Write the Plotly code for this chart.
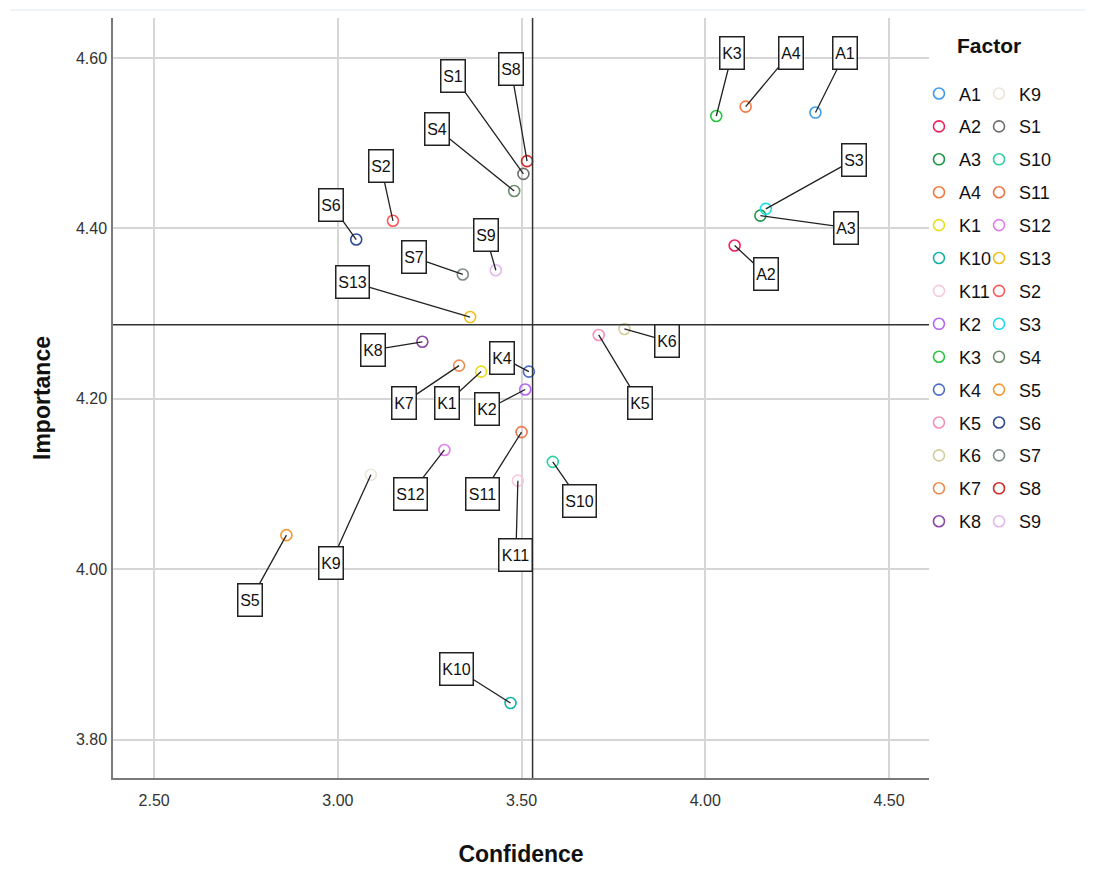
import plotly.graph_objects as go

# factor scores
factors = ["A1", "A2", "A3", "A4", "K1", "K10", "K11", "K2", "K3", "K4", "K5", "K6", "K7", "K8",
           "K9", "S1", "S10", "S11", "S12", "S13", "S2", "S3", "S4", "S5", "S6", "S7", "S8", "S9"]
confidence = [4.30, 4.08, 4.15, 4.11, 3.39, 3.47, 3.49, 3.51, 4.03, 3.52, 3.71, 3.78, 3.33, 3.23,
              3.09, 3.505, 3.585, 3.50, 3.29, 3.36, 3.15, 4.165, 3.48, 2.86, 3.05, 3.34, 3.515, 3.43]
importance = [4.536, 4.380, 4.415, 4.543, 4.232, 3.843, 4.104, 4.211, 4.532, 4.232, 4.275, 4.282, 4.239, 4.267,
              4.111, 4.464, 4.126, 4.161, 4.140, 4.296, 4.409, 4.423, 4.444, 4.040, 4.387, 4.346, 4.479, 4.351]

# reference lines (overall means)
ref_confidence = 3.53
ref_importance = 4.287

x_ticks = [2.5, 3.0, 3.5, 4.0, 4.5]
y_ticks = [3.8, 4.0, 4.2, 4.4, 4.6]

colors = {
    "A1": "#3d9be9", "A2": "#f0205a", "A3": "#1e9646", "A4": "#f57a46",
    "K1": "#e8de1e", "K10": "#14b4aa", "K11": "#fac8dc", "K2": "#b464f0",
    "K3": "#2dc346", "K4": "#4b6ec8", "K5": "#f591b9", "K6": "#d2cd9b",
    "K7": "#ec8c50", "K8": "#8c46a5", "K9": "#ebe6d7", "S1": "#6e6e6e",
    "S10": "#2dd2a0", "S11": "#f0734b", "S12": "#e17deb", "S13": "#f0be1e",
    "S2": "#f55a5a", "S3": "#1edceb", "S4": "#6e8c6e", "S5": "#f7962d",
    "S6": "#2d4b96", "S7": "#7d8c87", "S8": "#d22828", "S9": "#e1b9f0",
}

# label box offsets from each point, in pixels
# (A2 avoids the exact box-corner diagonal, where plotly drops the leader line)
label_offsets = {
    "A1": (30, -60), "A2": (31, 29), "A3": (86, 12), "A4": (45, -54),
    "K1": (-34, 31), "K10": (-54, -34), "K11": (-2, 74), "K2": (-38, 20),
    "K3": (16, -63), "K4": (-27, -14), "K5": (41, 68), "K6": (43, 12),
    "K7": (-55, 37), "K8": (-49, 8), "K9": (-40, 88), "S1": (-70, -98),
    "S10": (27, 39), "S11": (-39, 62), "S12": (-34, 44), "S13": (-118, -35),
    "S2": (-12, -55), "S3": (88, -49), "S4": (-77, -62), "S5": (-36, 65),
    "S6": (-25, -35), "S7": (-49, -17), "S8": (-16, -92), "S9": (-10, -35),
}

FONT = "Liberation Sans, Arial, sans-serif"

fig = go.Figure()

for i, (name, cx, iy) in enumerate(zip(factors, confidence, importance)):
    fig.add_trace(go.Scatter(
        x=[cx], y=[iy], mode="markers", name=name,
        legendgroup=name,
        legend="legend" if i < 14 else "legend2",
        marker=dict(symbol="circle-open", size=11, color=colors[name], line=dict(width=1.6)),
    ))
    dx, dy = label_offsets[name]
    fig.add_annotation(
        x=cx, y=iy, ax=dx, ay=dy, axref="pixel", ayref="pixel", text=name,
        showarrow=True, arrowhead=0, arrowwidth=1.3, arrowcolor="#222222", standoff=0,
        font=dict(family=FONT, size=16, color="#111111"),
        bgcolor="white", bordercolor="#222222", borderwidth=1.5, borderpad=1,
        width=21 if len(name) == 2 else 30, height=29,
    )

# mean reference lines
fig.add_hline(y=ref_importance, line=dict(color="#333333", width=1.5))
fig.add_vline(x=ref_confidence, line=dict(color="#333333", width=1.5))

# faint separator at the top of the page
fig.add_shape(type="line", xref="paper", yref="paper", x0=-0.126, x1=1.191, y0=1.0105, y1=1.0105,
              line=dict(color="#dde8f2", width=1))

fig.add_annotation(
    xref="paper", yref="paper", x=1.0735, y=0.9632, xanchor="center", yanchor="middle",
    text="<b>Factor</b>", showarrow=False, font=dict(family=FONT, size=21, color="#111111"),
)

axis_common = dict(
    showgrid=True, gridcolor="#d6d6d6", gridwidth=1.5,
    showline=True, linecolor="#7a7a7a", linewidth=1.5,
    zeroline=False, ticks="", tickformat=".2f",
    tickfont=dict(family=FONT, size=16, color="#333333"),
)

legend_common = dict(
    xanchor="left", yanchor="top", bgcolor="rgba(0,0,0,0)", borderwidth=0,
    font=dict(family=FONT, size=18, color="#111111"), tracegroupgap=6.5,
    orientation="v",
)

# page body adds an 8px offset, so margins are trimmed to keep the plot area in place
fig.update_layout(
    width=1093, height=872,
    margin=dict(l=105, r=172, t=10, b=102),
    plot_bgcolor="white", paper_bgcolor="white",
    font=dict(family=FONT),
    xaxis=dict(
        range=[2.388, 4.609], tickvals=x_ticks,
        title=dict(text="<b>Confidence</b>", font=dict(family=FONT, size=23, color="#111111"), standoff=38),
        ticklabelstandoff=7,
        **axis_common,
    ),
    yaxis=dict(
        range=[3.755, 4.647], tickvals=y_ticks,
        title=dict(text="<b>Importance</b>", font=dict(family=FONT, size=23, color="#111111"), standoff=19),
        ticklabelstandoff=1,
        **axis_common,
    ),
    legend=dict(x=0.9877, y=0.9246, **legend_common),
    legend2=dict(x=1.0613, y=0.9246, **legend_common),
    showlegend=True,
)

fig.write_html("out.html")
